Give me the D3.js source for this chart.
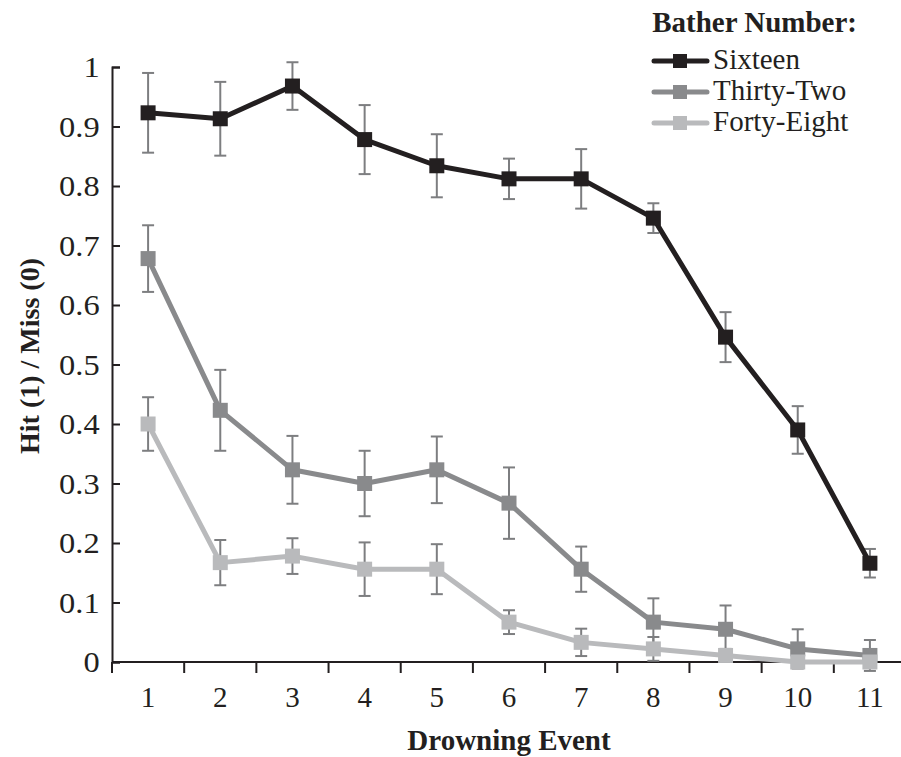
<!DOCTYPE html>
<html>
<head>
<meta charset="utf-8">
<script src="https://cdn.jsdelivr.net/npm/d3@7"></script>
<style>
  body { margin: 0; background: #fff; }
  text { font-family: "Liberation Serif", "Times New Roman", serif; fill: #231f20; }
</style>
</head>
<body>
<div id="chart"></div>
<script>
// drowning events on the x axis
var events = [1, 2, 3, 4, 5, 6, 7, 8, 9, 10, 11];
var yTicks = [0, 0.1, 0.2, 0.3, 0.4, 0.5, 0.6, 0.7, 0.8, 0.9, 1];

// mean hit rate and error per bather number
var sixteen      = [0.923, 0.913, 0.968, 0.878, 0.834, 0.812, 0.812, 0.746, 0.546, 0.390, 0.166];
var sixteenErr   = [0.067, 0.062, 0.040, 0.058, 0.053, 0.034, 0.050, 0.025, 0.042, 0.040, 0.024];
var thirtyTwo    = [0.678, 0.423, 0.323, 0.300, 0.323, 0.267, 0.156, 0.067, 0.055, 0.022, 0.011];
var thirtyTwoErr = [0.056, 0.068, 0.057, 0.055, 0.056, 0.060, 0.038, 0.040, 0.040, 0.033, 0.026];
var fortyEight    = [0.400, 0.167, 0.178, 0.156, 0.156, 0.067, 0.033, 0.022, 0.011, 0, 0];
var fortyEightErr = [0.045, 0.038, 0.030, 0.045, 0.042, 0.020, 0.023, 0.020, 0.011, 0, 0];

var seriesNames = ["Sixteen", "Thirty-Two", "Forty-Eight"];
var seriesColors = ["#231f20", "#898a8c", "#b9babc"];

var width = 901, height = 757;
var plotLeft = 112, plotRight = 906, plotTop = 67, plotBottom = 662;

var svg = d3.select("#chart").append("svg")
    .attr("width", width)
    .attr("height", height);

var x = d3.scaleBand().domain(events).range([plotLeft, plotRight]).padding(0);
var y = d3.scaleLinear().domain([0, 1]).range([plotBottom, plotTop]);

// x axis: labels at band centres, ticks at band edges
var xAxis = svg.append("g")
    .attr("transform", "translate(0," + plotBottom + ")")
    .call(d3.axisBottom(x).tickSize(0).tickFormat(String));
xAxis.select(".domain").remove();
xAxis.selectAll("text")
    .attr("y", 45)
    .attr("dy", null)
    .attr("font-size", 29)
    .attr("font-family", null)
    .style("fill", "#231f20");

svg.append("g").selectAll("line")
    .data(events)
    .enter().append("line")
    .attr("x1", function(d) { return x(d); })
    .attr("x2", function(d) { return x(d); })
    .attr("y1", plotBottom)
    .attr("y2", plotBottom + 11)
    .attr("stroke", "#231f20")
    .attr("stroke-width", 2);

svg.append("line")
    .attr("x1", plotLeft).attr("x2", width)
    .attr("y1", plotBottom).attr("y2", plotBottom)
    .attr("stroke", "#231f20").attr("stroke-width", 2);

// y axis, ticks pointing inward; labels a bit wider like the original
var yAxis = svg.append("g")
    .attr("transform", "translate(" + plotLeft + ",0)")
    .call(d3.axisRight(y).tickValues(yTicks).tickSize(8).tickFormat(d3.format("")));
yAxis.select(".domain").attr("stroke", "#231f20").attr("stroke-width", 2);
yAxis.selectAll(".tick line").attr("stroke", "#231f20").attr("stroke-width", 2);
yAxis.selectAll("text")
    .attr("x", -11)
    .attr("dy", "0.34em")
    .attr("text-anchor", "end")
    .attr("transform", "scale(1.12,1)")
    .attr("font-size", 29)
    .attr("font-family", null)
    .style("fill", "#231f20");

// axis titles
svg.append("text")
    .attr("x", (plotLeft + plotRight) / 2)
    .attr("y", 750)
    .attr("text-anchor", "middle")
    .attr("font-size", 29)
    .attr("font-weight", "bold")
    .text("Drowning Event");

svg.append("text")
    .attr("transform", "translate(39,356) rotate(-90)")
    .attr("text-anchor", "middle")
    .attr("font-size", 28)
    .attr("font-weight", "bold")
    .text("Hit (1) / Miss (0)");

var allSeries = [
  { name: seriesNames[0], vals: sixteen, errs: sixteenErr, color: seriesColors[0] },
  { name: seriesNames[1], vals: thirtyTwo, errs: thirtyTwoErr, color: seriesColors[1] },
  { name: seriesNames[2], vals: fortyEight, errs: fortyEightErr, color: seriesColors[2] }
];

var cx = function(d, i) { return x(events[i]) + x.bandwidth() / 2; };
var line = d3.line()
    .x(function(d, i) { return x(events[i]) + x.bandwidth() / 2; })
    .y(function(d) { return y(d); });

allSeries.forEach(function(s) {
  var g = svg.append("g");

  // error bars
  var eb = g.selectAll(".err")
      .data(s.vals)
      .enter().append("g")
      .attr("class", "err")
      .attr("stroke", "#7d7e80")
      .attr("stroke-width", 2);
  eb.append("line")
      .attr("x1", cx).attr("x2", cx)
      .attr("y1", function(d, i) { return y(d + s.errs[i]); })
      .attr("y2", function(d, i) { return y(d - s.errs[i]); });
  eb.append("line")
      .attr("x1", function(d, i) { return cx(d, i) - 6; })
      .attr("x2", function(d, i) { return cx(d, i) + 6; })
      .attr("y1", function(d, i) { return y(d + s.errs[i]); })
      .attr("y2", function(d, i) { return y(d + s.errs[i]); });
  eb.append("line")
      .attr("x1", function(d, i) { return cx(d, i) - 6; })
      .attr("x2", function(d, i) { return cx(d, i) + 6; })
      .attr("y1", function(d, i) { return y(d - s.errs[i]); })
      .attr("y2", function(d, i) { return y(d - s.errs[i]); });

  g.append("path")
      .datum(s.vals)
      .attr("d", line)
      .attr("fill", "none")
      .attr("stroke", s.color)
      .attr("stroke-width", 5)
      .attr("stroke-linejoin", "round");

  g.selectAll(".pt")
      .data(s.vals)
      .enter().append("rect")
      .attr("class", "pt")
      .attr("x", function(d, i) { return cx(d, i) - 7.5; })
      .attr("y", function(d) { return y(d) - 7.5; })
      .attr("width", 15)
      .attr("height", 15)
      .attr("fill", s.color);
});

// legend
var legend = svg.append("g");
legend.append("text")
    .attr("x", 857)
    .attr("y", 32)
    .attr("text-anchor", "end")
    .attr("font-size", 29)
    .attr("font-weight", "bold")
    .text("Bather Number:");

var item = legend.selectAll(".item")
    .data(allSeries)
    .enter().append("g")
    .attr("class", "item")
    .attr("transform", function(d, i) { return "translate(0," + (61 + i * 31) + ")"; });
item.append("line")
    .attr("x1", 654).attr("x2", 707)
    .attr("stroke", function(d) { return d.color; })
    .attr("stroke-width", 5)
    .attr("stroke-linecap", "round");
item.append("rect")
    .attr("x", 673).attr("y", -7).attr("width", 14).attr("height", 14)
    .attr("fill", function(d) { return d.color; });
item.append("text")
    .attr("x", 713)
    .attr("y", 8)
    .attr("font-size", 29)
    .text(function(d) { return d.name; });
</script>
</body>
</html>
